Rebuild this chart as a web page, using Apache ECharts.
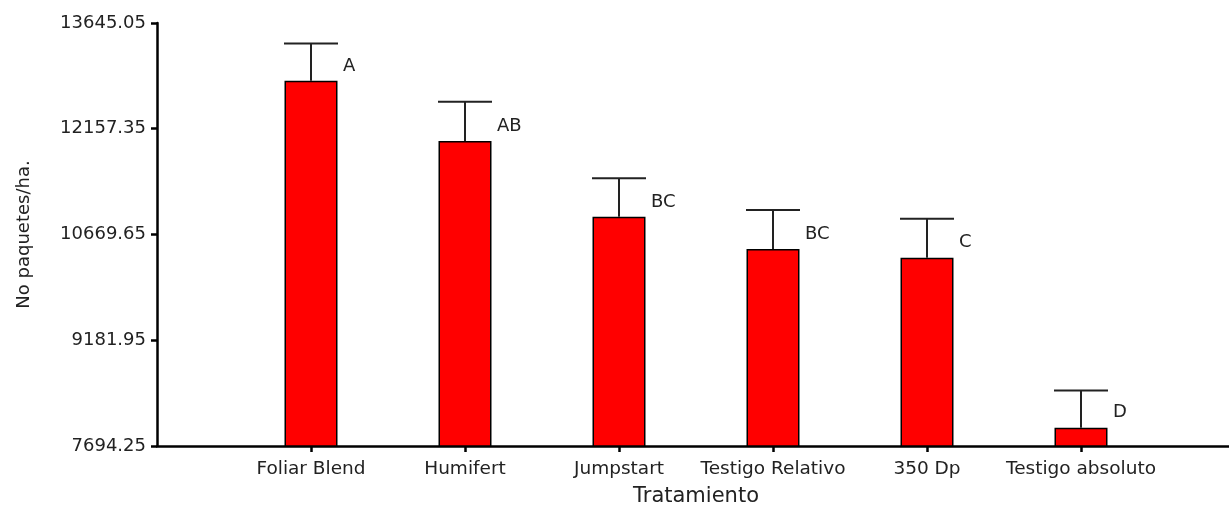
<!DOCTYPE html>
<html>
<head>
<meta charset="utf-8">
<script src="https://cdn.jsdelivr.net/npm/echarts@6/dist/echarts.min.js"></script>
<style>
html,body{margin:0;padding:0;background:#fff;}
#chart{width:1229px;height:509px;}
</style>
</head>
<body>
<div id="chart"></div>
<script>
var categories = ['Foliar Blend', 'Humifert', 'Jumpstart', 'Testigo Relativo', '350 Dp', 'Testigo absoluto'];
var means = [12831, 11985, 10918, 10465, 10342, 7952];
var upperErr = [13356, 12536, 11461, 11016, 10890, 8476];
var letters = ['A', 'AB', 'BC', 'BC', 'C', 'D'];
var yTicks = [7694.25, 9181.95, 10669.65, 12157.35, 13645.05];

var axisCats = [''].concat(categories, ['']);
var barData = ['-'].concat(means, ['-']);
var errData = categories.map(function (c, i) { return [i + 1, means[i], upperErr[i], letters[i]]; });

var font = '"DejaVu Sans", Verdana, sans-serif';
var chart = echarts.init(document.getElementById('chart'), null, {renderer: 'canvas'});
chart.setOption({
  animation: false,
  backgroundColor: '#fff',
  grid: {left: 157, top: 23, width: 1078, height: 423, containLabel: false, outerBoundsMode: 'none'},
  xAxis: {
    type: 'category',
    data: axisCats,
    boundaryGap: false,
    name: 'Tratamiento',
    nameLocation: 'middle',
    nameGap: 40,
    nameTextStyle: {fontFamily: font, fontSize: 21, color: '#222'},
    axisLine: {lineStyle: {color: '#000', width: 2.5}},
    axisTick: {length: 6, lineStyle: {color: '#000', width: 2.5},
      interval: function (i, v) { return v !== ''; }},
    axisLabel: {interval: 0, margin: 14, fontFamily: font, fontSize: 18.5, color: '#222'},
    splitLine: {show: false}
  },
  yAxis: {
    type: 'value',
    min: yTicks[0],
    max: yTicks[yTicks.length - 1],
    interval: yTicks[1] - yTicks[0],
    name: 'No paquetes/ha.',
    nameLocation: 'middle',
    nameGap: 124,
    nameRotate: 90,
    nameTextStyle: {fontFamily: font, fontSize: 18, color: '#222'},
    axisLine: {show: true, lineStyle: {color: '#000', width: 2.5}},
    axisTick: {show: true, length: 6, lineStyle: {color: '#000', width: 2.5}},
    axisLabel: {margin: 11, fontFamily: font, fontSize: 18, color: '#222',
      formatter: function (v) { return v.toFixed(2); }},
    splitLine: {show: false}
  },
  series: [
    {
      type: 'bar',
      data: barData,
      barWidth: 53,
      itemStyle: {color: '#ff0000', borderColor: '#000', borderWidth: 1.5},
      z: 2
    },
    {
      type: 'custom',
      data: errData,
      z: 3,
      renderItem: function (params, api) {
        var x = api.value(0);
        var pBase = api.coord([x, api.value(1)]);
        var pTop = api.coord([x, api.value(2)]);
        var half = 27;
        var style = {stroke: '#222', lineWidth: 2};
        return {
          type: 'group',
          children: [
            {type: 'line', shape: {x1: pBase[0], y1: pBase[1], x2: pTop[0], y2: pTop[1]}, style: style},
            {type: 'line', shape: {x1: pTop[0] - half, y1: pTop[1], x2: pTop[0] + half, y2: pTop[1]}, style: style},
            {type: 'text', style: {text: api.value(3), x: pBase[0] + 32, y: pBase[1] - 15,
              textVerticalAlign: 'middle', verticalAlign: 'middle', align: 'left',
              font: '18px ' + font, fill: '#222'}}
          ]
        };
      }
    }
  ]
});
</script>
</body>
</html>
